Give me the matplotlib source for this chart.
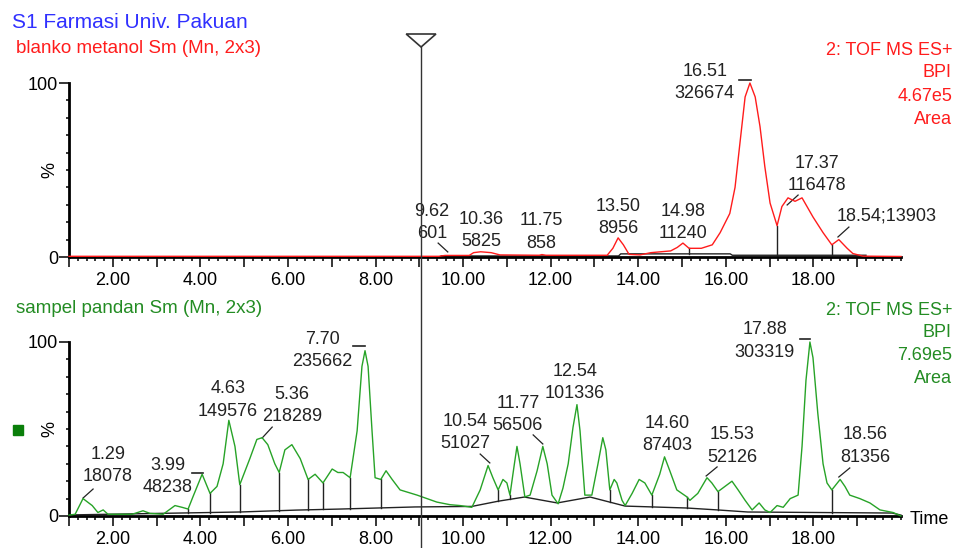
import numpy as np
import matplotlib
matplotlib.use("Agg")
import matplotlib.pyplot as plt
from matplotlib.transforms import blended_transform_factory
from matplotlib.patches import Polygon
from matplotlib.lines import Line2D

plt.rcParams['font.family'] = ['Liberation Sans', 'DejaVu Sans']

# ---- data (time in min, intensity in %) ----
blank_t = [1.00, 9.44, 9.59, 10.14, 10.24, 10.40, 10.64, 10.84, 11.74, 11.80, 11.89,
           13.29, 13.42, 13.54, 13.66, 13.79, 14.04, 14.29, 14.74, 14.89, 15.02, 15.16,
           15.44, 15.69, 15.87, 16.09, 16.21, 16.32, 16.44, 16.55, 16.67, 16.78, 16.89,
           17.01, 17.17, 17.28, 17.42, 17.58, 17.74, 17.99, 18.22, 18.42, 18.58, 18.77,
           18.90, 19.13, 20.00]
blank_i = [0.4, 0.4, 0.9, 0.9, 2.5, 3.0, 2.5, 1.2, 1.0, 1.4, 1.0,
           1.0, 5, 11, 7, 1.5, 1.2, 2.5, 3.5, 5.5, 8, 5,
           5, 7, 14, 25, 40, 65, 92, 100, 92, 75, 52,
           31, 18, 29, 34, 32, 34, 23, 14, 7, 10, 5,
           2, 0.5, 0.3]
blank_base_t = [9.50, 13.55, 13.60, 16.10, 16.15, 19.20]
blank_base_i = [0.6, 0.6, 1.8, 1.8, 1.0, 1.0]
blank_drops = [15.16, 17.17, 18.42]

sample_t = [1.00, 1.14, 1.32, 1.53, 1.66, 1.78, 1.89, 2.44, 2.69, 2.85, 3.15, 3.42, 3.58,
            3.72, 3.83, 4.04, 4.22, 4.38, 4.52, 4.65, 4.79, 4.90, 5.13, 5.29, 5.41, 5.54,
            5.70, 5.80, 5.93, 6.09, 6.28, 6.46, 6.62, 6.80, 7.01, 7.14, 7.26, 7.42, 7.58,
            7.69, 7.76, 7.83, 7.92, 7.99, 8.12, 8.24, 8.38, 8.56, 8.95, 9.40, 9.70, 9.93,
            10.20, 10.39, 10.57, 10.68, 10.80, 10.91, 11.00, 11.07, 11.16, 11.23, 11.30,
            11.41, 11.53, 11.69, 11.82, 11.92, 12.03, 12.17, 12.28, 12.40, 12.51, 12.60,
            12.67, 12.78, 12.94, 13.08, 13.19, 13.26, 13.35, 13.45, 13.51, 13.63, 13.70,
            13.86, 14.02, 14.15, 14.31, 14.49, 14.60, 14.72, 14.88, 15.11, 15.18, 15.36,
            15.57, 15.68, 15.82, 15.98, 16.14, 16.28, 16.44, 16.60, 16.76, 16.89, 17.01,
            17.17, 17.31, 17.47, 17.65, 17.74, 17.83, 17.92, 17.99, 18.10, 18.22, 18.31,
            18.42, 18.61, 18.72, 18.83, 19.06, 19.29, 19.52, 19.82, 20.00]
sample_i = [0.5, 1, 10, 6, 2, 3.5, 1, 1, 3, 1.5, 1, 6, 5,
            4, 11, 24, 13, 17, 30, 55, 40, 18, 33, 44, 45, 41,
            30, 25, 38, 41, 33, 21, 24, 19, 27, 25, 25, 22, 49,
            86, 95, 86, 49, 22, 21, 26, 21, 15, 12, 8, 6.5, 6,
            5, 15, 29, 22, 15, 21, 19, 12, 28, 40, 30,
            11, 12, 26, 40, 30, 12, 7, 16, 30, 51, 64,
            49, 12, 12, 30, 45, 38, 15, 21, 19, 9, 6,
            13, 21, 19, 12, 24, 34, 26, 15, 11, 9, 13,
            22, 19, 14, 17, 20, 15, 9, 3.5, 7.5, 3.5, 2,
            6, 5, 10, 12, 40, 78, 100, 91, 59, 30, 19,
            15, 21, 17, 12, 10, 7.5, 3.5, 2, 0]
sample_base_t = [1.0, 4.9, 6.2, 7.2, 8.9, 10.2, 10.8, 11.4, 12.15, 12.9, 13.7, 15.1, 15.8, 16.5, 19.8, 20.0]
sample_base_i = [0.6, 2.3, 3.4, 4.0, 5.2, 5.5, 8.5, 10.9, 7.5, 10.9, 5.7, 4.6, 3.5, 2.3, 1.7, 0.5]
sample_drops = [3.72, 4.22, 4.90, 5.80, 6.46, 6.80, 7.42, 8.12, 10.80, 11.07, 13.35, 14.31,
                15.11, 15.82, 18.42]

blank_peaks = [("9.62", "601"), ("10.36", "5825"), ("11.75", "858"), ("13.50", "8956"),
               ("14.98", "11240"), ("16.51", "326674"), ("17.37", "116478"), ("18.54;13903", None)]
sample_peaks = [("1.29", "18078"), ("3.99", "48238"), ("4.63", "149576"), ("5.36", "218289"),
                ("7.70", "235662"), ("10.54", "51027"), ("11.77", "56506"), ("12.54", "101336"),
                ("14.60", "87403"), ("15.53", "52126"), ("17.88", "303319"), ("18.56", "81356")]

# ---- layout: label positions (data coords), leader lines, peak-top ticks ----
blank_label_xy = [(9.29, 26.0), (10.41, 21.8), (11.78, 20.7), (13.54, 29.3),
                  (15.02, 26.4), (15.52, 106.5), (18.08, 53.7), (19.68, 23.3)]
blank_leaders = [((9.43, 8.0), (9.65, 2.9)), ((17.65, 35.6), (17.40, 29.9)),
                 ((18.81, 17.2), (18.56, 11.5))]
blank_tops = [((16.30, 16.57), 101.7)]

sample_label_xy = [(1.89, 35.3), (3.26, 29.3), (4.63, 73.0), (6.09, 70.0), (6.78, 101.7),
                   (10.04, 54.3), (11.25, 64.7), (12.56, 83.0), (14.66, 53.2), (16.14, 46.6),
                   (16.89, 107.0), (19.18, 46.6)]
sample_leaders = [((1.55, 15.5), (1.32, 10.3)), ((5.64, 51.1), (5.41, 44.8)),
                  ((10.39, 35.6), (10.61, 30.5)), ((11.60, 46.6), (11.82, 41.4)),
                  ((15.80, 28.2), (15.55, 23.0)), ((18.83, 27.6), (18.58, 22.4))]
sample_tops = [((3.81, 4.06), 24.7), ((7.49, 7.76), 97.7), ((17.69, 17.92), 101.7)]

cursor_t = 9.04

RED = '#ff1c1c'
GREEN_LINE = '#27a327'
GREEN_TXT = '#238c23'
BLUE = '#3030ff'
INK = '#222222'
FS = 13

W, H = 960, 548
fig = plt.figure(figsize=(W / 100, H / 100), dpi=100)
ax1 = fig.add_axes([69 / W, 1 - 257 / H, 832 / W, 174 / H])
ax2 = fig.add_axes([69 / W, 1 - 516 / H, 832 / W, 174 / H])


def style_axis(ax):
    ax.set_xlim(1, 20)
    ax.set_ylim(0, 100)
    for s in ['top', 'right']:
        ax.spines[s].set_visible(False)
    for s in ['left', 'bottom']:
        ax.spines[s].set_linewidth(2.0)
    ax.set_xticks(np.arange(1, 20, 1))
    ax.set_xticklabels(['%.2f' % v if v % 2 == 0 else '' for v in range(1, 20)])
    ax.set_xticks(np.arange(1, 20.01, 0.2), minor=True)
    ax.set_yticks([0, 100])
    ax.set_yticklabels(['0', '100'])
    ax.set_yticks(np.arange(10, 100, 10), minor=True)
    ax.tick_params(axis='x', which='major', length=7.5, width=1.1, pad=3.5, labelsize=FS)
    ax.tick_params(axis='x', which='minor', length=3.2, width=1.1)
    ax.tick_params(axis='y', which='major', length=7, width=1.1, pad=1, labelsize=FS)
    ax.tick_params(axis='y', which='minor', length=2.5, width=1.1)
    ax.text(-19 / 832, 0.5, '%', transform=ax.transAxes, rotation=90,
            ha='center', va='center', fontsize=FS)
    ax.patch.set_alpha(0)


def draw_panel(ax, t, inten, base_t, base_i, drops, color):
    ax.plot(base_t, base_i, color=INK, lw=1.0, zorder=2, clip_on=False)
    for d in drops:
        ax.plot([d, d], [np.interp(d, base_t, base_i), np.interp(d, t, inten)],
                color=INK, lw=1.0, zorder=2)
    ax.plot(t, inten, color=color, lw=1.0, zorder=3, clip_on=False)


def draw_labels(ax, peaks, xy, leaders, tops):
    for (a, b), (x, y) in zip(peaks, xy):
        ax.annotate(a, (x, y), ha='center', va='center', fontsize=FS,
                    color=INK, annotation_clip=False)
        if b:
            ax.annotate(b, (x, y), xytext=(0, -16), textcoords='offset points',
                        ha='center', va='center', fontsize=FS, color=INK,
                        annotation_clip=False)
    for (p0, p1) in leaders:
        ax.plot([p0[0], p1[0]], [p0[1], p1[1]], color=INK, lw=0.9, clip_on=False)
    for (x0, x1), y in tops:
        ax.plot([x0, x1], [y, y], color=INK, lw=1.2, clip_on=False)


style_axis(ax1)
style_axis(ax2)
draw_panel(ax1, blank_t, blank_i, blank_base_t, blank_base_i, blank_drops, RED)
draw_panel(ax2, sample_t, sample_i, sample_base_t, sample_base_i, sample_drops, GREEN_LINE)
draw_labels(ax1, blank_peaks, blank_label_xy, blank_leaders, blank_tops)
draw_labels(ax2, sample_peaks, sample_label_xy, sample_leaders, sample_tops)

# header texts
fig.text(12 / W, 1 - 28 / H, 'S1 Farmasi Univ. Pakuan', color=BLUE, fontsize=15, va='baseline')
fig.text(16 / W, 1 - 53 / H, 'blanko metanol Sm (Mn, 2x3)', color=RED, fontsize=13.5, va='baseline')
fig.text(16 / W, 1 - 313 / H, 'sampel pandan Sm (Mn, 2x3)', color=GREEN_TXT, fontsize=13.5, va='baseline')

for txt, yb in zip(['2: TOF MS ES+', 'BPI', '4.67e5', 'Area'], [55, 77, 101, 124]):
    fig.text(952 / W, 1 - yb / H, txt, color=RED, fontsize=FS, ha='right', va='baseline')
for txt, yb in zip(['2: TOF MS ES+', 'BPI', '7.69e5', 'Area'], [315, 337, 360, 383]):
    fig.text(952 / W, 1 - yb / H, txt, color=GREEN_TXT, fontsize=FS, ha='right', va='baseline')

fig.text(910 / W, 1 - 519 / H, 'Time', fontsize=FS, ha='left', va='center')
fig.add_artist(plt.Rectangle((13 / W, 1 - 435 / H), 10 / W, 10 / H,
                             transform=fig.transFigure, color='#0a7f0a'))

# cursor marker
trans = blended_transform_factory(ax1.transData, fig.transFigure)
fig.add_artist(Line2D([cursor_t, cursor_t], [0, 1 - 47 / H], transform=trans,
                      color='#333333', lw=1.0))
fig.add_artist(Polygon([[cursor_t - 0.34, 1 - 34 / H], [cursor_t + 0.34, 1 - 34 / H],
                        [cursor_t, 1 - 47 / H]], closed=True, fill=False,
                       edgecolor='#333333', lw=1.2, transform=trans))

fig.savefig('out.png', dpi=100)
